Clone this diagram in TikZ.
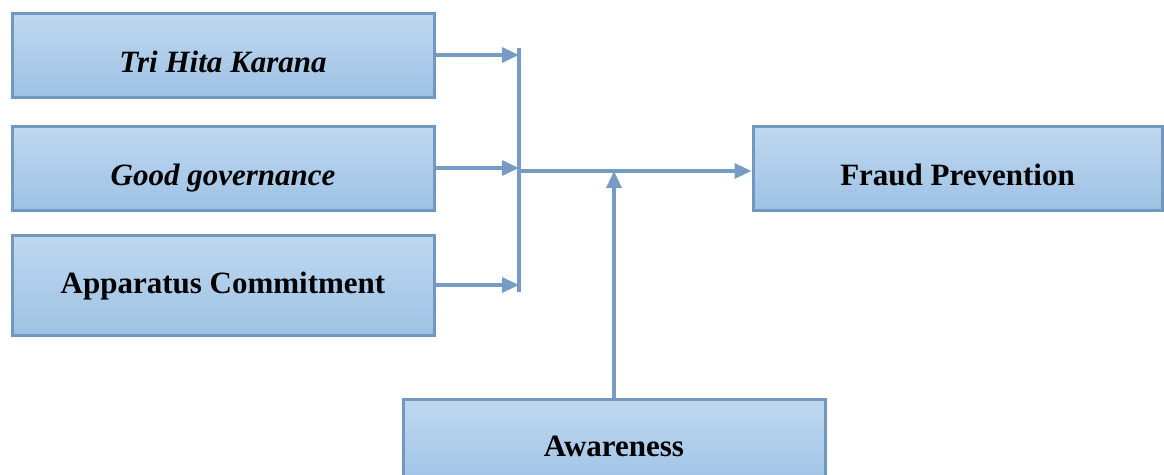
\documentclass[tikz,border=0pt]{standalone}
\usepackage{fontspec}
\setmainfont{Liberation Serif}
\usetikzlibrary{arrows.meta}
\definecolor{boxtop}{RGB}{191,216,240}
\definecolor{boxbot}{RGB}{158,194,228}
\definecolor{boxedge}{RGB}{114,152,192}
\definecolor{linec}{RGB}{118,156,196}
\tikzset{
  varbox/.style={draw=boxedge, line width=3pt, top color=boxtop, bottom color=boxbot,
    minimum width=422pt, minimum height=84pt, inner sep=0pt, text depth=0pt, text height=34pt,
    font=\fontsize{31}{36}\selectfont\bfseries},
  itbox/.style={varbox, font=\fontsize{31}{36}\selectfont\bfseries\itshape},
  conn/.style={draw=linec, line width=3.2pt},
  arr/.style={conn, -{Triangle[length=17pt,width=15pt]}},
}
\begin{document}
\begin{tikzpicture}[x=1pt,y=-1pt]
\useasboundingbox (0,0) rectangle (1164,474);
\node[itbox] (thk) at (223,55) {Tri Hita Karana};
\node[itbox] (gg) at (223,168) {Good governance};
\node[varbox, minimum height=100pt, text height=16pt] (ac) at (223,285) {Apparatus Commitment};
\node[varbox, minimum width=409pt, minimum height=84pt] (fp) at (957.5,168) {Fraud Prevention};
\node[varbox, minimum height=92pt, text height=22pt] (aw) at (614,445) {Awareness};
\coordinate (bustop) at (519,48);
\coordinate (busbot) at (519,292);
\coordinate (junc) at (519,171);
\draw[conn] (bustop) -- (busbot);
\draw[arr] (thk.east) -- (thk.east -| junc);
\draw[arr] (gg.east) -- (gg.east -| junc);
\draw[arr] (ac.east) -- (ac.east -| junc);
\draw[arr] (junc) -- (junc -| fp.west);
\draw[arr] (aw.north) -- (aw.north |- junc);
\end{tikzpicture}
\end{document}
